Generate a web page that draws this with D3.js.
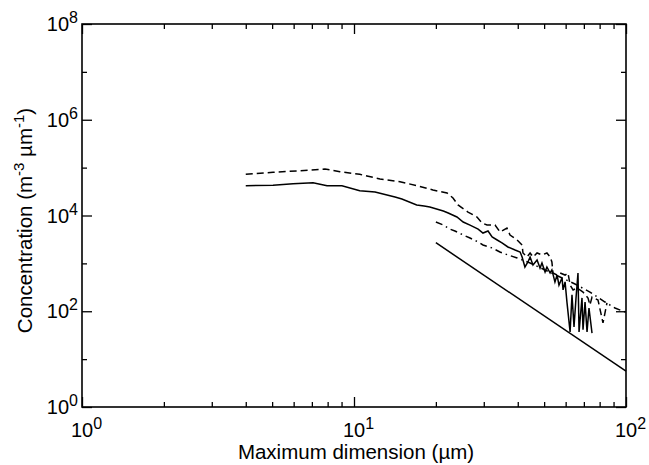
<!DOCTYPE html>
<html>
<head>
<meta charset="utf-8">
<script src="https://cdn.jsdelivr.net/npm/d3@7"></script>
<style>
body { margin: 0; background: #fff; }
text { font-family: "Liberation Sans", Arial, sans-serif; fill: #000; }
</style>
</head>
<body>
<div id="chart"></div>
<script>
// measured size distribution (solid)
const measX = [4.0, 5.04, 5.97, 7.07, 7.96, 9.03, 10.5, 11.95, 14.15, 15.0, 17.0, 18.1, 19.0, 21.3, 22.2, 23.9, 25.2, 26.7, 28.6, 29.8, 31.1, 32.2, 33.6, 35.0, 36.8, 39.1, 40.8, 41.5, 42.5, 43.6, 44.4, 45.5, 47.1, 48.3, 49.1, 50.4, 51.2, 52.6, 53.4, 54.8, 55.8, 56.7, 58.2, 58.7, 59.7, 60.7, 62.3, 63.3, 64.4, 65.5, 66.6, 67.2, 68.9, 69.5, 70.7, 71.9, 73.1, 75.0];
const measY = [42000, 42700, 46200, 48400, 42000, 42000, 33000, 31000, 24300, 22100, 16600, 15800, 15100, 12400, 11300, 9300, 7300, 6300, 5200, 4300, 4750, 3560, 3080, 2670, 2200, 1900, 1730, 1360, 840, 1070, 1360, 925, 1180, 800, 1020, 660, 840, 630, 730, 410, 570, 350, 500, 280, 410, 150, 37, 220, 47, 190, 630, 37, 190, 41, 156, 37, 117, 35];

// dashed series
const dashX = [4.0, 5.04, 6.33, 7.82, 8.88, 10.5, 11.16, 12.46, 14.76, 17.0, 19.51, 21.98, 23.12, 24.12, 26.25, 28.33, 29.55, 30.83, 33.0, 34.42, 36.5, 37.46, 39.76, 41.5, 41.8, 43.25, 44.4, 45.5, 47.1, 49.1, 51.2, 52.6, 53.4, 53.9, 55.8, 57.2, 59.7, 61.2, 62.3, 63.9, 66.1, 67.7, 69.5, 72.5, 73.7, 75.0, 78.9, 82.3, 85.1];
const dashY = [72500, 79900, 86300, 93600, 82200, 72500, 66800, 57900, 50800, 42000, 34100, 29500, 23200, 16600, 11800, 9300, 6970, 6330, 6330, 4520, 5480, 3910, 3080, 2420, 1650, 1360, 1650, 1360, 1650, 1500, 1650, 1360, 1070, 630, 570, 630, 570, 630, 353, 278, 306, 278, 252, 189, 135, 198, 172, 57, 149];

// dash-dot series
const ddX = [20.0, 21.3, 22.5, 23.5, 25.2, 26.7, 28.6, 29.8, 32.2, 34.4, 36.8, 39.8, 44.4, 50.4, 57.2, 64.9, 73.7, 83.7, 91.1, 100];
const ddY = [7300, 6330, 5220, 4750, 3910, 3390, 2800, 2420, 2100, 1730, 1500, 1300, 1020, 727, 520, 371, 252, 156, 117, 95];

// power-law fit (solid straight line)
const fitX = [20, 100];
const fitY = [2700, 5.6];

const xMajor = [1, 10, 100];
const xMinor = [2, 3, 4, 5, 6, 7, 8, 9, 20, 30, 40, 50, 60, 70, 80, 90];
const yMajor = [1, 1e2, 1e4, 1e6, 1e8];
const yMinor = [10, 1e3, 1e5, 1e7];

const width = 649, height = 465;
const margin = {top: 24, left: 82};
const w = 544, h = 383;

const svg = d3.select("#chart").append("svg")
    .attr("width", width)
    .attr("height", height);

const g = svg.append("g")
    .attr("transform", "translate(" + margin.left + "," + margin.top + ")");

const x = d3.scaleLog().domain([1, 100]).range([0, w]);
const y = d3.scaleLog().domain([1, 1e8]).range([h, 0]);

function styleAxis(sel) {
    sel.select(".domain").remove();
    sel.selectAll(".tick line").attr("stroke", "#000").attr("stroke-width", 1.3);
}

// ticks on all four sides, pointing inward
g.append("g").attr("transform", "translate(0," + h + ")")
    .call(d3.axisBottom(x).tickValues(xMajor).tickSize(-10).tickFormat("")).call(styleAxis);
g.append("g").attr("transform", "translate(0," + h + ")")
    .call(d3.axisBottom(x).tickValues(xMinor).tickSize(-5).tickFormat("")).call(styleAxis);
g.append("g")
    .call(d3.axisTop(x).tickValues(xMajor).tickSize(-10).tickFormat("")).call(styleAxis);
g.append("g")
    .call(d3.axisTop(x).tickValues(xMinor).tickSize(-5).tickFormat("")).call(styleAxis);
g.append("g")
    .call(d3.axisLeft(y).tickValues(yMajor).tickSize(-10).tickFormat("")).call(styleAxis);
g.append("g")
    .call(d3.axisLeft(y).tickValues(yMinor).tickSize(-5).tickFormat("")).call(styleAxis);
g.append("g").attr("transform", "translate(" + w + ",0)")
    .call(d3.axisRight(y).tickValues(yMajor).tickSize(-10).tickFormat("")).call(styleAxis);
g.append("g").attr("transform", "translate(" + w + ",0)")
    .call(d3.axisRight(y).tickValues(yMinor).tickSize(-5).tickFormat("")).call(styleAxis);

g.append("rect")
    .attr("width", w).attr("height", h)
    .attr("fill", "none").attr("stroke", "#000").attr("stroke-width", 1.6);

// tick labels 10^n
g.selectAll(".xlab").data(xMajor).enter().append("text")
    .attr("class", "xlab")
    .attr("x", d => x(d) - 11)
    .attr("y", h + 30)
    .style("font-size", "20px")
    .each(function(d) {
        const t = d3.select(this);
        t.append("tspan").text("10");
        t.append("tspan").attr("dy", -8).style("font-size", "16px").text(Math.round(Math.log10(d)));
    });

g.selectAll(".ylab").data(yMajor).enter().append("text")
    .attr("class", "ylab")
    .attr("x", -4)
    .attr("y", d => y(d) + 7)
    .attr("text-anchor", "end")
    .style("font-size", "20px")
    .each(function(d) {
        const t = d3.select(this);
        t.append("tspan").text("10");
        t.append("tspan").attr("dy", -8).style("font-size", "16px").text(Math.round(Math.log10(d)));
    });

// axis titles
g.append("text")
    .attr("x", w / 2 + 2)
    .attr("y", h + 52)
    .attr("text-anchor", "middle")
    .style("font-size", "20.5px")
    .text("Maximum dimension (\u00b5m)");

const yt = g.append("text")
    .attr("transform", "translate(-50," + (h / 2 + 5) + ") rotate(-90)")
    .attr("text-anchor", "middle")
    .style("font-size", "20.5px");
yt.append("tspan").text("Concentration (m");
yt.append("tspan").attr("dy", -8).style("font-size", "15px").text("-3");
yt.append("tspan").attr("dy", 8).text(" \u00b5m");
yt.append("tspan").attr("dy", -8).style("font-size", "15px").text("-1");
yt.append("tspan").attr("dy", 8).text(")");

// series
const line = d3.line().x(d => x(d[0])).y(d => y(d[1]));

function drawSeries(xs, ys, dash) {
    g.append("path")
        .datum(xs.map((v, i) => [v, ys[i]]))
        .attr("d", line)
        .attr("fill", "none")
        .attr("stroke", "#000")
        .attr("stroke-width", 1.5)
        .attr("stroke-dasharray", dash);
}

drawSeries(dashX, dashY, "7,4");
drawSeries(ddX, ddY, "7,4,1.5,4");
drawSeries(measX, measY, null);
drawSeries(fitX, fitY, null);
</script>
</body>
</html>
